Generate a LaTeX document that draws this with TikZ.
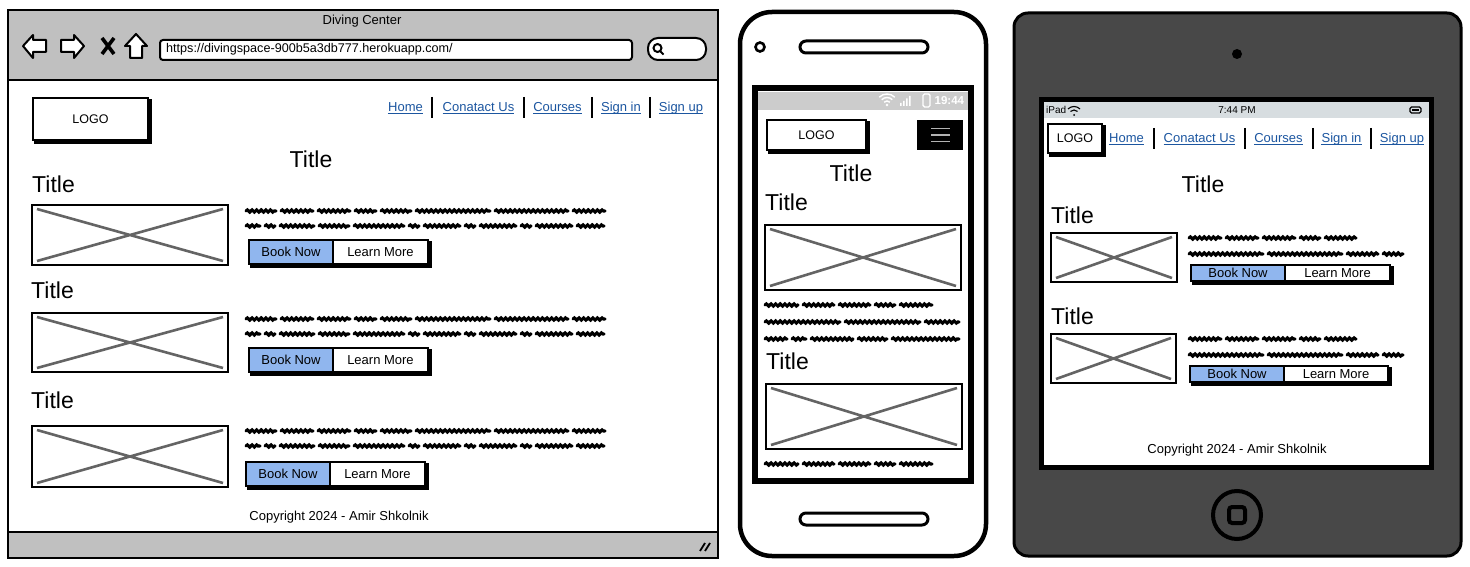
\documentclass[tikz,border=0pt]{standalone}
\usepackage{fontspec}
\setmainfont{Liberation Sans}
\usetikzlibrary{decorations.pathmorphing}

\definecolor{chrome}{RGB}{192,192,192}
\definecolor{linkblue}{RGB}{28,86,160}
\definecolor{bookblue}{RGB}{144,182,238}
\definecolor{xgray}{RGB}{100,100,100}
\definecolor{phonebar}{RGB}{204,204,204}
\definecolor{padbar}{RGB}{215,221,224}
\definecolor{padbody}{RGB}{72,72,72}

\tikzset{
  px/.style={x=1pt,y=-1pt},
  txt/.style={inner sep=0pt,font=\fontsize{13}{15}\selectfont},
  ttl/.style={inner sep=0pt,font=\fontsize{23}{26}\selectfont},
  navtext/.style={txt,text=linkblue,anchor=base},
  btntext/.style={txt},
  blahline/.style={line width=3.1pt,line cap=round,decorate,
    decoration={snake,amplitude=1.1pt,segment length=4.6pt}},
  sepline/.style={line width=1.6pt},
  xline/.style={xgray,line width=2.6pt},
}

% a row of scribbled placeholder words: start x, y, word widths
\newcommand\blah[3]{%
  \xdef\blahx{#1}%
  \foreach \w in {#3}{%
    \draw[blahline] (\blahx,#2) -- ++(\w,0);
    \pgfmathsetmacro\blahtmp{\blahx+\w+5}%
    \xdef\blahx{\blahtmp}%
  }%
}
% image placeholder box with a cross
\newcommand\imgbox[4]{%
  \fill[white] (#1,#2) rectangle (#3,#4);
  \draw[xline] (#1+5,#2+4) -- (#3-5,#4-4) (#1+5,#4-4) -- (#3-5,#2+4);
  \draw[line width=2pt] (#1,#2) rectangle (#3,#4);
}
% button pair: name, x1, y1, x-split, x2, y2
\newcommand\btnpair[6]{%
  \draw[line width=2.6pt] (#2+2.5,#3+2.5) rectangle (#5+2.5,#6+2.5);
  \fill[bookblue] (#2,#3) rectangle (#4,#6);
  \fill[white] (#4,#3) rectangle (#5,#6);
  \draw[line width=1.8pt] (#2,#3) rectangle (#5,#6) (#4,#3) -- (#4,#6);
  \node[btntext] (#1b) at ({(#2+#4)/2},{(#3+#6)/2}) {Book Now};
  \node[btntext] (#1l) at ({(#4+#5)/2},{(#3+#6)/2}) {Learn More};
}
% logo box with a heavy shadow: name, x1, y1, x2, y2
\newcommand\logobox[5]{%
  \draw[line width=3pt] (#2+2.5,#3+2.5) rectangle (#4+2.5,#5+2.5);
  \draw[line width=1.8pt,fill=white] (#2,#3) rectangle (#4,#5);
  \node[txt,font=\fontsize{12.5}{14}\selectfont] (#1) at ({(#2+#4)/2},{(#3+#5)/2}) {LOGO};
}
% underlined link: name, x (centre), baseline y, label
\newcommand\navlink[4]{%
  \node[navtext] (#1) at (#2,#3) {#4};
  \draw[linkblue,line width=0.9pt] ([yshift=-2pt]#1.base west) -- ([yshift=-2pt]#1.base east);
}

\begin{document}
\begin{tikzpicture}[px]
\useasboundingbox (0,0) rectangle (1470,567);

% ================= desktop browser =================
\fill[white] (8,10) rectangle (718,558);
\fill[chrome] (8,10) rectangle (718,80);
\fill[chrome] (8,532) rectangle (718,558);
\draw[line width=2pt] (8,80) -- (718,80) (8,532) -- (718,532);
\draw[line width=2pt] (8,10) rectangle (718,558);
\node[txt] (brtitle) at (362,21) {Diving Center};

% navigation buttons
\draw[line width=2pt,fill=white,line join=round]
  (23,46) -- (33,35) -- (33,40) -- (46,40) -- (46,52) -- (33,52) -- (33,58) -- cycle;
\draw[line width=2pt,fill=white,line join=round]
  (84,46) -- (74,35) -- (74,40) -- (61,40) -- (61,52) -- (74,52) -- (74,58) -- cycle;
\draw[line width=3.6pt] (102,38) -- (114,54) (114,38) -- (102,54);
\draw[line width=2pt,fill=white,line join=round]
  (136,34) -- (147,46) -- (142,46) -- (142,58) -- (130,58) -- (130,46) -- (125,46) -- cycle;

% address bar and search field
\draw[line width=2pt,fill=white,rounded corners=3pt] (160,40) rectangle (632,60);
\node[txt,anchor=west,font=\fontsize{12.6}{14}\selectfont] (url) at (166,49.5)
  {https://divingspace-900b5a3db777.herokuapp.com/};
\draw[line width=2pt,fill=white,rounded corners=10pt] (648,38) rectangle (706,60);
\draw[line width=2pt] (657.5,48) circle (4);
\draw[line width=2pt] (660,51) -- (663.5,54.5);

% page header
\logobox{lg1}{33}{98}{148}{140}
\navlink{n1a}{405.5}{111.5}{Home}
\navlink{n1b}{478.5}{111.5}{Conatact Us}
\navlink{n1c}{557.5}{111.5}{Courses}
\navlink{n1d}{621}{111.5}{Sign in}
\navlink{n1e}{681}{111.5}{Sign up}
\draw[sepline] (432,97) -- (432,118) (524,97) -- (524,118)
               (592,97) -- (592,118) (650,97) -- (650,118);
\node[ttl] (bt0) at (311,159) {Title};

% section 1
\node[ttl,anchor=west] (bt1) at (32,184) {Title};
\imgbox{32}{205}{228}{265}
\blah{246}{211}{30,32,32,21,30,74,73,32}
\blah{246}{226}{14,10,34,30,50,10,36,10,36,10,36,27}
\btnpair{bb1}{249}{240}{333}{428}{264}

% section 2
\node[ttl,anchor=west] (bt2) at (31,290) {Title};
\imgbox{32}{313}{228}{372}
\blah{246}{319}{30,32,32,21,30,74,73,32}
\blah{246}{334}{14,10,34,30,50,10,36,10,36,10,36,27}
\btnpair{bb2}{249}{348}{333}{428}{372}

% section 3
\node[ttl,anchor=west] (bt3) at (31,400) {Title};
\imgbox{32}{426}{228}{487}
\blah{246}{431}{30,32,32,21,30,74,73,32}
\blah{246}{446}{14,10,34,30,50,10,36,10,36,10,36,27}
\btnpair{bb3}{246}{462}{330}{425}{486}

\node[txt] (bcopy) at (339,517) {Copyright 2024 - Amir Shkolnik};
% resize grip
\draw[line width=1.8pt] (700,551) -- (705,543) (705,551) -- (710,543);

% ================= phone =================
\draw[line width=4.5pt,fill=white,rounded corners=32pt] (740,12) rectangle (986,556);
\draw[line width=2.6pt] (760,47) circle (4.5);
\draw[line width=3pt,rounded corners=6pt] (800,41) rectangle (928,53);
\draw[line width=3pt,rounded corners=6pt] (800,513) rectangle (928,525);
\draw[line width=6pt,fill=white] (755,88) rectangle (971,481);
\fill[phonebar] (758,92) rectangle (968,110);
% status icons
\begin{scope}[white,line width=1.4pt]
  \fill (887,105) circle (1.4);
  \draw (884.17,102.17) arc[start angle=225,end angle=315,radius=4];
  \draw (881.7,99.7) arc[start angle=225,end angle=315,radius=7.5];
  \draw (879.22,97.22) arc[start angle=225,end angle=315,radius=11];
  \fill (900,103) rectangle (901.5,106) (903,101) rectangle (904.5,106)
        (906,98.5) rectangle (907.5,106) (909,96) rectangle (910.5,106);
  \draw[rounded corners=1.5pt] (923,94) rectangle (930,107);
\end{scope}
\node[txt,anchor=west,text=white,font=\bfseries\fontsize{11.5}{13}\selectfont] (ptime) at (934.5,101) {19:44};

\logobox{lg2}{767}{120}{866}{150}
\fill[black] (917,120) rectangle (963,150);
\draw[gray!60,line width=1.5pt] (931,128.5) -- (950,128.5) (931,135) -- (950,135) (931,141.5) -- (950,141.5);
\node[ttl] (pt0) at (851,173) {Title};
\node[ttl,anchor=west] (pt1) at (765,202) {Title};
\imgbox{765}{225}{961}{290}
\blah{765}{305}{33,31,31,20,32}
\blah{765}{322}{75,75,34}
\blah{765}{339}{22,14,42,29,67}
\node[ttl,anchor=west] (pt2) at (766,361) {Title};
\imgbox{766}{384}{962}{449}
\blah{765}{464}{33,31,31,20,32}

% ================= tablet =================
\draw[line width=3pt,fill=padbody,rounded corners=14pt] (1014,13) rectangle (1461,556);
\fill[black] (1237,54) circle (5);
\draw[line width=5pt,fill=white] (1041.5,99.5) rectangle (1431.5,467.5);
\fill[padbar] (1044,102) rectangle (1429,118);
\node[txt,anchor=west,font=\fontsize{10}{12}\selectfont] (ipad) at (1046,110) {iPad};
\begin{scope}[line width=1.1pt]
  \fill (1074,115) circle (1);
  \draw (1070.46,111.46) arc[start angle=225,end angle=315,radius=5];
  \draw (1067.99,108.99) arc[start angle=225,end angle=315,radius=8.5];
\end{scope}
\node[txt,font=\fontsize{10}{12}\selectfont] (itime) at (1237,110) {7:44 PM};
\draw[line width=1.2pt,rounded corners=1.5pt] (1410,107) rectangle (1421,113);
\fill (1412,108.8) rectangle (1419,111.2);

\logobox{lg3}{1048}{124}{1102}{153}
\navlink{n3a}{1126.5}{142.5}{Home}
\navlink{n3b}{1199.5}{142.5}{Conatact Us}
\navlink{n3c}{1278.5}{142.5}{Courses}
\navlink{n3d}{1341.5}{142.5}{Sign in}
\navlink{n3e}{1402}{142.5}{Sign up}
\draw[sepline] (1154,128) -- (1154,149) (1245,128) -- (1245,149)
               (1313,128) -- (1313,149) (1371,128) -- (1371,149);
\node[ttl] (tt0) at (1203,184) {Title};

\node[ttl,anchor=west] (tt1) at (1051,215) {Title};
\imgbox{1051}{233}{1177}{282}
\blah{1189}{238}{32,32,32,20,31}
\blah{1189}{254}{74,74,31,20}
\btnpair{tb1}{1191}{265}{1285}{1390}{281}

\node[ttl,anchor=west] (tt2) at (1051,316) {Title};
\imgbox{1051}{334}{1176}{383}
\blah{1189}{339}{32,32,32,20,31}
\blah{1189}{355}{74,74,31,20}
\btnpair{tb2}{1190}{366}{1284}{1388}{382}

\node[txt] (tcopy) at (1237,450) {Copyright 2024 - Amir Shkolnik};
% home button
\draw[line width=4pt] (1237,515) circle (24);
\draw[line width=4pt,rounded corners=3pt] (1229,507) rectangle (1245,523);
\end{tikzpicture}
\end{document}
